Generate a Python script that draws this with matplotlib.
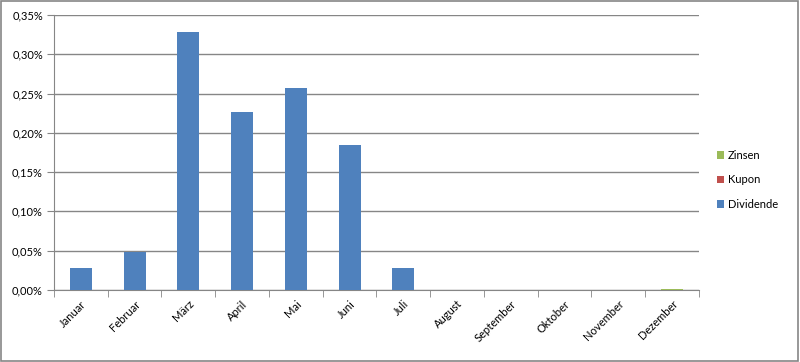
import matplotlib.pyplot as plt
from matplotlib.patches import Rectangle
from matplotlib.ticker import FuncFormatter, MultipleLocator
import numpy as np

monate = ['Januar', 'Februar', 'März', 'April', 'Mai', 'Juni', 'Juli',
          'August', 'September', 'Oktober', 'November', 'Dezember']
# values in percent
dividende = [0.028, 0.048, 0.328, 0.226, 0.257, 0.185, 0.028, 0, 0, 0, 0, 0]
kupon = [0, 0, 0, 0, 0, 0, 0, 0, 0, 0, 0, 0]
zinsen = [0, 0, 0, 0, 0, 0, 0, 0, 0, 0, 0, 0.0012]

plt.rcParams['font.family'] = ['Lato', 'DejaVu Sans']
grau = '#868686'

fig = plt.figure(figsize=(8, 3.62), dpi=100)
ax = fig.add_axes([0.0675, 0.199, 0.806, 0.7596])

x = np.arange(len(monate))
w = 0.41
dividende = np.array(dividende)
kupon = np.array(kupon)
zinsen = np.array(zinsen)
b1 = ax.bar(x, dividende, w, color='#4F81BD', label='Dividende', zorder=3)
b2 = ax.bar(x, kupon, w, bottom=dividende, color='#C0504D', label='Kupon', zorder=3)
b3 = ax.bar(x, zinsen, w, bottom=dividende + kupon, color='#9BBB59', label='Zinsen', zorder=3)

ax.set_xlim(-0.5, len(monate) - 0.5)
ax.set_ylim(0, 0.35)
ax.yaxis.set_major_locator(MultipleLocator(0.05))
ax.yaxis.set_major_formatter(FuncFormatter(lambda v, p: ('%.2f%%' % v).replace('.', ',')))
ax.grid(axis='y', color=grau, linewidth=1, zorder=0)

ax.set_xticks(x)
ax.set_xticklabels(monate, rotation=45, ha='right', rotation_mode='anchor', fontsize=8)
ax.set_xticks(np.arange(-0.5, len(monate)), minor=True)
ax.tick_params(axis='x', which='major', length=0, pad=6)
ax.tick_params(axis='x', which='minor', length=5, color=grau, direction='out')
ax.tick_params(axis='y', length=5, color=grau, labelsize=8, pad=3)

for s in ['top', 'right']:
    ax.spines[s].set_visible(False)
for s in ['left', 'bottom']:
    ax.spines[s].set_color(grau)

ax.legend(handles=[b3, b2, b1], loc='center left', bbox_to_anchor=(1.012, 0.40),
          frameon=False, fontsize=8, handlelength=0.7, handleheight=0.7,
          handletextpad=0.3, labelspacing=1.2)

fig.patches.append(Rectangle((0.001, 0.002), 0.997, 0.995, transform=fig.transFigure,
                             fill=False, edgecolor=grau, linewidth=1.2))

fig.savefig('out.png', dpi=100)
